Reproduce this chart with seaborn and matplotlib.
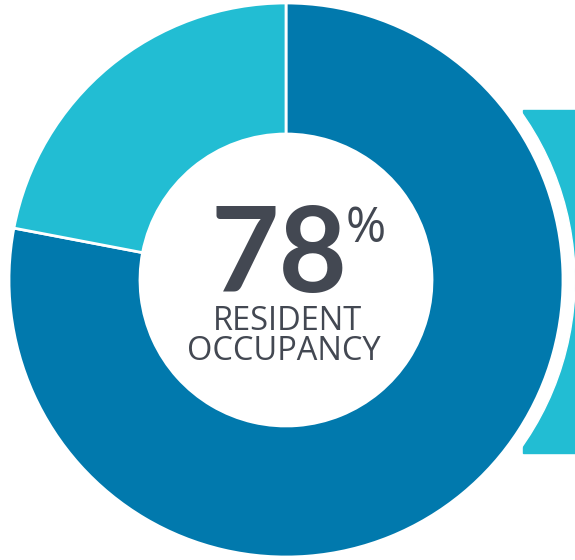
import matplotlib
matplotlib.use("Agg")
import matplotlib.pyplot as plt
from matplotlib.patches import Rectangle, Circle
import seaborn as sns

# data
labels = ["Resident", "Other"]
values = [78, 22]
colors = ["#0179ad", "#22bdd3"]
headline = "78"
caption = ["RESIDENT", "OCCUPANCY"]

sns.set_theme(style="white")
plt.rcParams['font.family'] = ['Lato', 'DejaVu Sans']

fig = plt.figure(figsize=(5.75, 5.6), dpi=100)
ax = fig.add_axes([0, 0, 1, 1])

cx, cy, r_out, r_in = 286, 280, 277, 146

# next panel peeking in at the right edge
ax.add_patch(Rectangle((523, 107), 80, 343, color=colors[1], zorder=0))
ax.add_patch(Circle((cx, cy), 289, color="white", zorder=1))

wedges, _ = ax.pie(values, colors=colors, startangle=90, counterclock=False,
                   radius=r_out, center=(cx, cy),
                   wedgeprops=dict(width=r_out - r_in, edgecolor="white", linewidth=2))
for w in wedges:
    w.set_zorder(2)

ax.set_xlim(0, 575)
ax.set_ylim(0, 560)
ax.set_aspect("equal")
ax.axis("off")

txt = "#434852"
sans = ["Open Sans", "DejaVu Sans"]
ax.text(279, 268, headline, ha="center", va="baseline", fontsize=85,
        fontweight="bold", color=txt, zorder=3)
ax.text(366, 355, "%", ha="center", va="top", fontsize=35,
        family=sans, color=txt, zorder=3)
ax.text(288, 230, caption[0], ha="center", va="baseline", fontsize=23.5,
        family=sans, fontweight="medium", color=txt, zorder=3)
ax.text(284, 200, caption[1], ha="center", va="baseline", fontsize=23.5,
        family=sans, fontweight="medium", color=txt, zorder=3)

fig.savefig("out.png", dpi=100)
